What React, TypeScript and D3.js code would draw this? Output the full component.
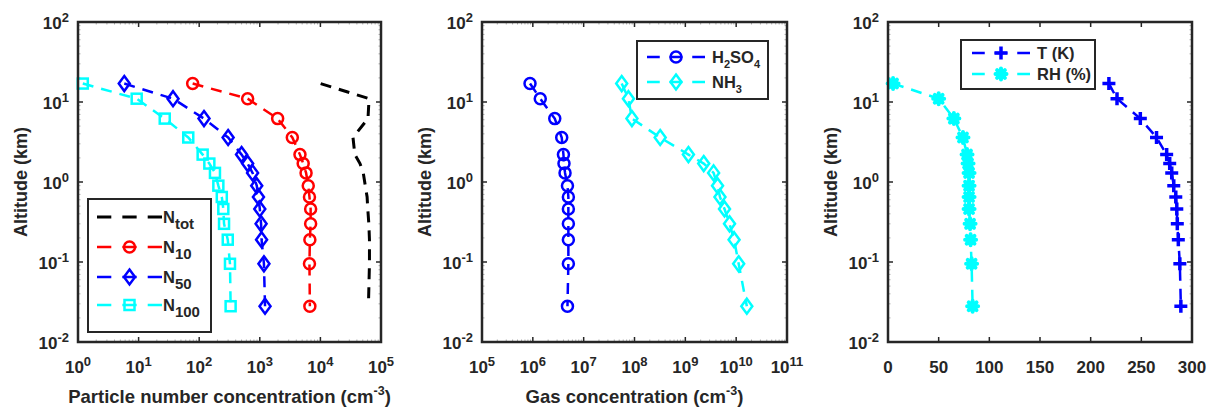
import React from 'react';
import * as d3 from 'd3';

// altitude levels (km), shared by all series
const ALT = [17, 11, 6.2, 3.6, 2.2, 1.7, 1.3, 0.9, 0.65, 0.46, 0.3, 0.19, 0.095, 0.028];

// particle number concentrations (cm^-3)
const N_TOT = [10100, 63500, 61000, 34500, 37000, 45000, 51000, 55000, 59000, 60500, 63000, 64500, 64500, 62000];
const N_10 = [78, 630, 1970, 3440, 4600, 5200, 5800, 6300, 6600, 6900, 6900, 6700, 6600, 6700];
const N_50 = [5.8, 37, 120, 300, 500, 630, 760, 890, 950, 1000, 1050, 1070, 1170, 1220];
const N_100 = [1.2, 9.3, 27, 66, 114, 147, 182, 207, 236, 250, 257, 296, 322, 330];

// gas concentrations (cm^-3)
const H2SO4 = [8.8e5, 1.4e6, 2.7e6, 3.7e6, 4.0e6, 4.1e6, 4.3e6, 4.8e6, 5.0e6, 5.0e6, 5.0e6, 5.0e6, 5.0e6, 4.8e6];
const NH3 = [5.6e7, 7.6e7, 8.9e7, 3.2e8, 1.15e9, 2.3e9, 3.6e9, 4.3e9, 4.8e9, 5.9e9, 7.4e9, 9.1e9, 1.12e10, 1.62e10];

// meteorology
const TEMP = [218, 226, 249, 265, 275, 278, 280, 282, 284, 285, 285.5, 286.5, 288, 289];
const RH = [5, 50, 65, 74, 78, 79, 80, 80, 80, 80, 81, 81.5, 82.5, 83.5];

const Y_EXP = [-2, -1, 0, 1, 2];
const X1_EXP = [0, 1, 2, 3, 4, 5];
const X2_EXP = [5, 6, 7, 8, 9, 10, 11];
const X3_TICKS = [0, 50, 100, 150, 200, 250, 300];

const FONT = '"Liberation Sans", Arial, Helvetica, sans-serif';
const AXIS = '#262626';
const TOP = 22;
const BOTTOM = 342;

type MarkerType = 'none' | 'circle' | 'diamond' | 'square' | 'plus' | 'star';

interface Series {
  values: number[];
  color: string;
  marker: MarkerType;
  width: number;
  dash: string;
}

interface LegendRow {
  series: Series;
  main: string;
  sub?: string;
  tail?: string;
  sub2?: string;
}

interface LegendSpec {
  x0: number; y0: number; x1: number; y1: number;
  lineX0: number; lineX1: number; textX: number;
  rows: number[];
  subSize: number;
  subDy: number;
  entries: LegendRow[];
}

function Marker({ type, x, y, color }: { type: MarkerType; x: number; y: number; color: string }) {
  const sw = 2.5;
  switch (type) {
    case 'circle':
      return <circle cx={x} cy={y} r={5.5} fill="none" stroke={color} strokeWidth={sw} />;
    case 'diamond':
      return (
        <path d={`M${x},${y - 7.5}L${x + 5.5},${y}L${x},${y + 7.5}L${x - 5.5},${y}Z`} fill="none" stroke={color} strokeWidth={sw} />
      );
    case 'square':
      return <rect x={x - 5} y={y - 5} width={10} height={10} fill="none" stroke={color} strokeWidth={sw} />;
    case 'plus':
      return (
        <path d={`M${x - 6.5},${y}H${x + 6.5}M${x},${y - 6.5}V${y + 6.5}`} stroke={color} strokeWidth={3.5} />
      );
    case 'star': {
      const r = 5.5;
      const d = d3.range(4).map(i => {
        const a = (i * Math.PI) / 4;
        return `M${x - r * Math.cos(a)},${y - r * Math.sin(a)}L${x + r * Math.cos(a)},${y + r * Math.sin(a)}`;
      }).join('');
      return <path d={d} stroke={color} strokeWidth={4} strokeLinecap="round" />;
    }
    default:
      return null;
  }
}

const pow = (e: number, supSize = 13) => (
  <>
    10<tspan dy={-7} fontSize={supSize}>{e}</tspan>
  </>
);

function Panel({
  left, right, x, xTicks, xTickLabel, xLabel, series, legend,
}: {
  left: number; right: number;
  x: d3.ScaleContinuousNumeric<number, number>;
  xTicks: number[];
  xTickLabel: (v: number) => React.ReactNode;
  xLabel?: React.ReactNode;
  series: Series[];
  legend: LegendSpec;
}) {
  const y = d3.scaleLog().domain([1e-2, 1e2]).range([BOTTOM, TOP]);
  x.range([left, right]);
  const isLog = (x as any).base !== undefined;

  const minorX: number[] = [];
  if (isLog) {
    for (let i = 0; i < xTicks.length - 1; i++) {
      for (let k = 2; k < 10; k++) minorX.push(xTicks[i] * k);
    }
  }
  const minorY: number[] = [];
  for (let e = -2; e < 2; e++) for (let k = 2; k < 10; k++) minorY.push(Math.pow(10, e) * k);

  const line = d3.line<[number, number]>().x(d => x(d[0])).y(d => y(d[1]));
  const tl = 5;

  return (
    <g fontFamily={FONT} fontWeight="bold">
      {/* minor ticks */}
      {minorX.map((v, i) => (
        <g key={'mx' + i} stroke="#b0b0b0" strokeWidth={1}>
          <line x1={x(v)} x2={x(v)} y1={BOTTOM} y2={BOTTOM - 2.5} />
          <line x1={x(v)} x2={x(v)} y1={TOP} y2={TOP + 2.5} />
        </g>
      ))}
      {minorY.map((v, i) => (
        <g key={'my' + i} stroke="#b0b0b0" strokeWidth={1}>
          <line x1={left} x2={left + 2.5} y1={y(v)} y2={y(v)} />
          <line x1={right} x2={right - 2.5} y1={y(v)} y2={y(v)} />
        </g>
      ))}
      {/* major ticks */}
      {xTicks.map((v, i) => (
        <g key={'tx' + i} stroke={AXIS} strokeWidth={1.5}>
          <line x1={x(v)} x2={x(v)} y1={BOTTOM} y2={BOTTOM - tl} />
          <line x1={x(v)} x2={x(v)} y1={TOP} y2={TOP + tl} />
        </g>
      ))}
      {Y_EXP.map(e => (
        <g key={'ty' + e} stroke={AXIS} strokeWidth={1.5}>
          <line x1={left} x2={left + tl} y1={y(Math.pow(10, e))} y2={y(Math.pow(10, e))} />
          <line x1={right} x2={right - tl} y1={y(Math.pow(10, e))} y2={y(Math.pow(10, e))} />
        </g>
      ))}

      {/* series */}
      {series.map((s, si) => {
        const pts: [number, number][] = s.values.map((v, i) => [v, ALT[i]]);
        return (
          <g key={'s' + si}>
            <path d={line(pts) || ''} fill="none" stroke={s.color} strokeWidth={s.width} strokeDasharray={s.dash} />
            {pts.map((p, i) => (
              <Marker key={i} type={s.marker} x={x(p[0])} y={y(p[1])} color={s.color} />
            ))}
          </g>
        );
      })}

      {/* frame */}
      <rect x={left} y={TOP} width={right - left} height={BOTTOM - TOP} fill="none" stroke={AXIS} strokeWidth={2.5} />

      {/* tick labels */}
      {Y_EXP.map(e => (
        <text key={'ly' + e} x={left - 9} y={y(Math.pow(10, e)) + 7} textAnchor="end" fontSize={17} fill={AXIS}>
          {pow(e)}
        </text>
      ))}
      {xTicks.map((v, i) => (
        <text key={'lx' + i} x={x(v)} y={373} textAnchor="middle" fontSize={17} fill={AXIS}>
          {xTickLabel(v)}
        </text>
      ))}

      {/* axis labels */}
      <text
        transform={`translate(${left - 51},${(TOP + BOTTOM) / 2}) rotate(-90)`}
        textAnchor="middle" fontSize={18} fill={AXIS}
      >
        Altitude (km)
      </text>
      {xLabel && (
        <text x={(left + right) / 2} y={403} textAnchor="middle" fontSize={18.5} fill={AXIS}>
          {xLabel}
        </text>
      )}

      {/* legend */}
      <rect
        x={legend.x0} y={legend.y0} width={legend.x1 - legend.x0} height={legend.y1 - legend.y0}
        fill="white" stroke={AXIS} strokeWidth={2}
      />
      {legend.entries.map((en, i) => {
        const ry = legend.rows[i];
        const len = legend.lineX1 - legend.lineX0;
        const s = en.series;
        return (
          <g key={'lg' + i}>
            <line
              x1={legend.lineX0} x2={legend.lineX1} y1={ry} y2={ry}
              stroke={s.color} strokeWidth={s.width}
              strokeDasharray={`${len * 0.22},${len * 0.17}`}
            />
            <Marker type={s.marker} x={(legend.lineX0 + legend.lineX1) / 2} y={ry} color={s.color} />
            <text x={legend.textX} y={ry + 6} fontSize={16.5} fill={AXIS}>
              {en.main}
              {en.sub && <tspan dy={legend.subDy} fontSize={legend.subSize}>{en.sub}</tspan>}
              {en.tail && <tspan dy={-legend.subDy}>{en.tail}</tspan>}
              {en.sub2 && <tspan dy={legend.subDy} fontSize={legend.subSize}>{en.sub2}</tspan>}
            </text>
          </g>
        );
      })}
    </g>
  );
}

export default function App() {
  const sTot: Series = { values: N_TOT, color: '#000000', marker: 'none', width: 3, dash: '11,8' };
  const s10: Series = { values: N_10, color: '#ff0000', marker: 'circle', width: 2.5, dash: '11,8' };
  const s50: Series = { values: N_50, color: '#0000ff', marker: 'diamond', width: 2.5, dash: '11,8' };
  const s100: Series = { values: N_100, color: '#00ffff', marker: 'square', width: 2.5, dash: '11,8' };
  const sH2: Series = { values: H2SO4, color: '#0000ff', marker: 'circle', width: 2.5, dash: '11,8' };
  const sNH: Series = { values: NH3, color: '#00ffff', marker: 'diamond', width: 2.5, dash: '11,8' };
  const sT: Series = { values: TEMP, color: '#0000ff', marker: 'plus', width: 2.5, dash: '11,8' };
  const sRH: Series = { values: RH, color: '#00ffff', marker: 'star', width: 2.5, dash: '11,8' };

  return (
    <div style={{ position: 'fixed', left: 0, top: 0 }}>
      <svg width={1210} height={410} style={{ display: 'block', background: 'white' }}>
        <Panel
          left={78} right={381}
          x={d3.scaleLog().domain([1, 1e5])}
          xTicks={X1_EXP.map(e => Math.pow(10, e))}
          xTickLabel={v => pow(Math.round(Math.log10(v)))}
          xLabel={<>Particle number concentration (cm<tspan dy={-8} fontSize={12.5}>-3</tspan><tspan dy={8}>)</tspan></>}
          series={[sTot, s10, s50, s100]}
          legend={{
            x0: 88, y0: 199, x1: 211, y1: 332,
            lineX0: 97, lineX1: 162, textX: 163,
            rows: [217, 247, 277, 305], subSize: 15, subDy: 6,
            entries: [
              { series: sTot, main: 'N', sub: 'tot' },
              { series: s10, main: 'N', sub: '10' },
              { series: s50, main: 'N', sub: '50' },
              { series: s100, main: 'N', sub: '100' },
            ],
          }}
        />
        <Panel
          left={482} right={787}
          x={d3.scaleLog().domain([1e5, 1e11])}
          xTicks={X2_EXP.map(e => Math.pow(10, e))}
          xTickLabel={v => pow(Math.round(Math.log10(v)))}
          xLabel={<>Gas concentration (cm<tspan dy={-8} fontSize={12.5}>-3</tspan><tspan dy={8}>)</tspan></>}
          series={[sH2, sNH]}
          legend={{
            x0: 637, y0: 41, x1: 768, y1: 99,
            lineX0: 647, lineX1: 705, textX: 712,
            rows: [57, 82], subSize: 11, subDy: 5,
            entries: [
              { series: sH2, main: 'H', sub: '2', tail: 'SO', sub2: '4' },
              { series: sNH, main: 'NH', sub: '3' },
            ],
          }}
        />
        <Panel
          left={888} right={1192}
          x={d3.scaleLinear().domain([0, 300])}
          xTicks={X3_TICKS}
          xTickLabel={v => String(v)}
          series={[sT, sRH]}
          legend={{
            x0: 961, y0: 40, x1: 1095, y1: 89,
            lineX0: 972, lineX1: 1030, textX: 1037,
            rows: [53, 74], subSize: 11, subDy: 5,
            entries: [
              { series: sT, main: 'T (K)' },
              { series: sRH, main: 'RH (%)' },
            ],
          }}
        />
      </svg>
    </div>
  );
}
